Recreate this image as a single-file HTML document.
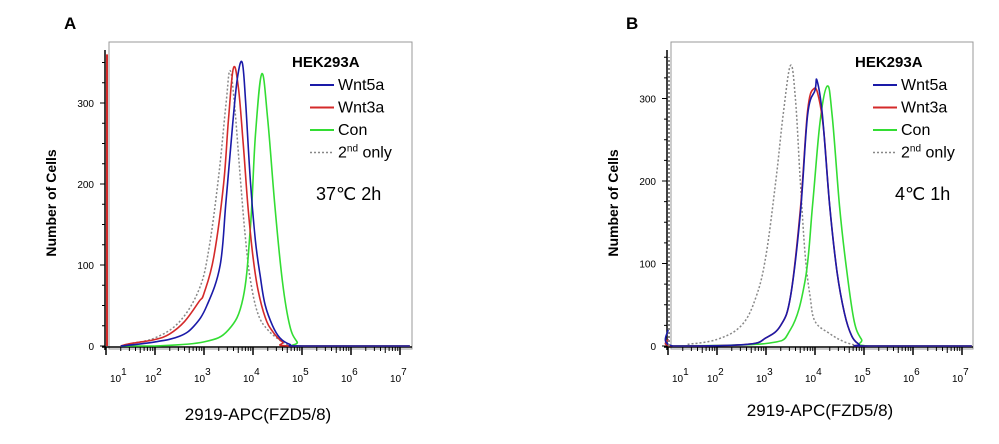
<!DOCTYPE html>
<html><head><meta charset="utf-8"><style>
body{margin:0;background:#fff;width:999px;height:444px;overflow:hidden;font-family:"Liberation Sans",Arial,sans-serif}
svg{display:block}
</style></head><body>
<svg id="chart" width="999" height="444"></svg>
<script>
const decadeLabels=[1,2,3,4,5,6,7];
const yTicks=[0,100,200,300];
const seriesNames=["Wnt5a","Wnt3a","Con","2nd only"];
const seriesColors=["#1a1aa8","#d42a2a","#33dd33","#888888"];
// panel A data: [log10 intensity, count]
const aWnt5a=[[1.3,0],[2,5],[2.5,12],[2.8,25],[3.06,50],[3.33,100],[3.45,180],[3.58,270],[3.68,330],[3.78,350],[3.85,300],[3.95,200],[4.05,130],[4.15,85],[4.25,50],[4.4,25],[4.55,10],[4.75,2],[5,0],[7.2,0]];
const aWnt3a=[[1.3,0],[1.5,3],[2,8],[2.3,15],[2.6,30],[2.9,55],[3.0,65],[3.2,110],[3.4,200],[3.5,280],[3.6,343],[3.7,320],[3.8,250],[3.9,170],[4.0,110],[4.1,70],[4.25,35],[4.4,18],[4.6,5],[4.8,0],[7.2,0]];
const aCon=[[1.3,0],[2,0],[3,5],[3.5,20],[3.8,60],[3.95,150],[4.05,260],[4.18,336],[4.3,280],[4.45,170],[4.6,80],[4.75,25],[4.9,5],[5,0],[7.2,0]];
const aSecond=[[1.3,0],[1.5,3],[2,10],[2.5,30],[2.9,70],[3.1,120],[3.3,210],[3.45,300],[3.53,340],[3.62,300],[3.75,200],[3.85,130],[3.95,80],[4.1,40],[4.3,20],[4.6,5],[4.8,0]];
// panel B data
const bWnt5a=[[1.0,20],[1.1,0],[2.6,2],[3,10],[3.3,25],[3.5,60],[3.7,160],[3.85,280],[4.0,310],[4.04,322],[4.15,280],[4.3,170],[4.45,90],[4.6,40],[4.75,12],[4.9,2],[5,0],[7.2,0]];
const bWnt3a=[[1.0,8],[1.1,0],[2.6,2],[3,10],[3.3,25],[3.5,60],[3.7,165],[3.85,285],[3.98,312],[4.08,300],[4.18,260],[4.3,170],[4.45,90],[4.6,40],[4.75,12],[4.9,2],[5,0],[7.2,0]];
const bCon=[[1.1,0],[3,3],[3.5,20],[3.8,80],[3.95,170],[4.1,270],[4.25,315],[4.35,280],[4.5,170],[4.65,90],[4.8,30],[4.95,8],[5.1,0],[7.2,0]];
const bSecond=[[1.4,2],[2,8],[2.5,25],[2.8,60],[3.0,110],[3.2,200],[3.35,280],[3.5,340],[3.6,300],[3.7,200],[3.8,110],[3.9,60],[4.0,30],[4.3,15],[4.6,5],[4.9,0]];

const NS="http://www.w3.org/2000/svg";
const svg=document.getElementById('chart');
function mk(tag,attrs,parent,text){const e=document.createElementNS(NS,tag);for(const k in attrs)e.setAttribute(k,attrs[k]);if(text!==undefined)e.textContent=text;(parent||svg).appendChild(e);return e;}
function smooth(P,base){
  let d='M'+P[0][0].toFixed(1)+','+P[0][1].toFixed(1);
  for(let i=0;i<P.length-1;i++){
    const p0=P[Math.max(0,i-1)],p1=P[i],p2=P[i+1],p3=P[Math.min(P.length-1,i+2)];
    const t=0.18;
    let c1y=p1[1]+(p2[1]-p0[1])*t, c2y=p2[1]-(p3[1]-p1[1])*t;
    c1y=Math.min(c1y,base);c2y=Math.min(c2y,base);
    const c1x=p1[0]+(p2[0]-p0[0])*t, c2x=p2[0]-(p3[0]-p1[0])*t;
    d+=` C${c1x.toFixed(1)},${c1y.toFixed(1)} ${c2x.toFixed(1)},${c2y.toFixed(1)} ${p2[0].toFixed(1)},${p2[1].toFixed(1)}`;
  }
  return d;
}

function panel(cfg){
  const g=mk('g',{});
  
  
  const xs=v=>cfg.x0+(v-1)*cfg.dec;
  const ys=v=>cfg.base-v*cfg.ppc;
  const letter=mk('text',{x:cfg.letterX,y:29,'font-size':17,'font-weight':'bold'},g,cfg.letter);
  
  
  const box=mk('rect',{x:cfg.x0+3,y:42,width:cfg.right-cfg.x0-3,height:cfg.base-42+3,fill:'none',stroke:'#999','stroke-width':1},g);
  
  
  const ya=mk('g',{},g);
  
  
  mk('line',{x1:cfg.x0-1,y1:50,x2:cfg.x0-1,y2:cfg.base+4,stroke:'#000','stroke-width':1.5},ya);
  for(let v=0;v<=350;v+=25){const y=ys(v);mk('line',{x1:cfg.x0-(v%100===0?6:4),y1:y,x2:cfg.x0-1,y2:y,stroke:'#000','stroke-width':1},ya);}
  yTicks.forEach(v=>{const t=mk('text',{x:cfg.x0-12,y:ys(v)+4,'font-size':10,'text-anchor':'end'},ya,String(v));
    
    });
  const yt=mk('text',{x:0,y:0,'font-size':14,'font-weight':'bold','text-anchor':'middle',transform:`translate(${cfg.x0-50},${(cfg.base+60)/2}) rotate(-90)`},g,'Number of Cells');
  
  
  const xa=mk('g',{},g);
  
  
  mk('line',{x1:cfg.x0-4,y1:cfg.base+1,x2:cfg.right,y2:cfg.base+1,stroke:'#000','stroke-width':1.5},xa);
  for(let d=1;d<=7;d++){
    mk('line',{x1:xs(d),y1:cfg.base+1,x2:xs(d),y2:cfg.base+9,stroke:'#000','stroke-width':1.5},xa);
    if(d<7)for(let m=2;m<10;m++){const x=xs(d+Math.log10(m));mk('line',{x1:x,y1:cfg.base+1,x2:x,y2:cfg.base+(m===5?7:5),stroke:'#000','stroke-width':1},xa);}
  }
  decadeLabels.forEach(d=>{const t=mk('text',{x:xs(d)+(d===1?4:-10),y:cfg.base+36,'font-size':10},xa);
    
    
    mk('tspan',{},t,'10');mk('tspan',{dy:-7,'font-size':10},t,String(d));});
  const xt=mk('text',{x:cfg.xTitleX,y:cfg.xTitleY,'font-size':17,'text-anchor':'middle'},g,'2919-APC(FZD5/8)');
  
  
  [3,2,1,0].forEach(i=>{const P=cfg.data[i].map(p=>[xs(p[0]),ys(p[1])]);
    const l=mk('path',{d:smooth(P,cfg.base),fill:'none',stroke:seriesColors[i],'stroke-width':i===3?1.5:1.6,'stroke-dasharray':i===3?'2,2':'none','stroke-linejoin':'round'},g);
    
    });
  const sp=mk('line',{x1:cfg.x0+1,y1:cfg.base,x2:cfg.x0+1,y2:ys(cfg.spike),stroke:cfg.spikeColor,'stroke-width':2,'stroke-dasharray':cfg.spikeDash},g);
  
  
  const lg=mk('g',{},g);
  
  
  mk('text',{x:cfg.lx-18,y:67,'font-size':15,'font-weight':'bold'},lg,'HEK293A');
  seriesNames.forEach((n,i)=>{const y=85+i*22.5;
    const e=mk('g',{},lg);
    
    
    mk('line',{x1:cfg.lx,y1:y,x2:cfg.lx+24,y2:y,stroke:seriesColors[i],'stroke-width':i===3?1.5:2,'stroke-dasharray':i===3?'2,2':'none'},e);
    const t=mk('text',{x:cfg.lx+28,y:y+5,'font-size':16},e);
    if(i===3){mk('tspan',{},t,'2');mk('tspan',{dy:-6,'font-size':10},t,'nd');mk('tspan',{dy:6},t,' only');}
    else t.textContent=n;});
  const an=mk('text',{x:cfg.annX,y:200,'font-size':18},g,cfg.ann);
  
  
}
panel({name:'panel-a',letter:'A',letterX:64,x0:106,dec:49,base:346,ppc:0.81,right:412,data:[aWnt5a,aWnt3a,aCon,aSecond],
  lx:310,ann:'37℃ 2h',annX:316,xTitleX:258,xTitleY:420,spike:360,spikeColor:'#d42a2a',spikeDash:'none'});
panel({name:'panel-b',letter:'B',letterX:626,x0:668,dec:49,base:346,ppc:0.825,right:973,data:[bWnt5a,bWnt3a,bCon,bSecond],
  lx:873,ann:'4℃ 1h',annX:895,xTitleX:820,xTitleY:416,spike:350,spikeColor:'#888',spikeDash:'2,2'});
</script>
</body></html>
